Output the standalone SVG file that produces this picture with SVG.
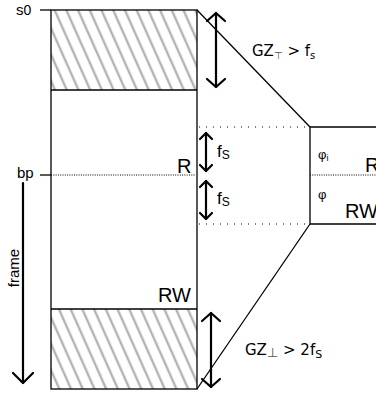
<svg xmlns="http://www.w3.org/2000/svg" width="376" height="394" viewBox="0 0 376 394">
<style>
  .ln { stroke: #000; stroke-width: 1.3; fill: none; }
  .arr { stroke: #000; stroke-width: 2.2; fill: none; stroke-linecap: round; stroke-linejoin: round; }
  .dotS { stroke: #000; stroke-width: 1; stroke-dasharray: 1 6; fill: none; }
  .dotF { stroke: #000; stroke-width: 1; stroke-dasharray: 1 1.3; fill: none; }
  .t { font-family: "Liberation Sans", Arial, sans-serif; fill: #000; }
  .d { font-family: "DejaVu Sans", sans-serif; fill: #000; }
</style>
<defs>
  <pattern id="hatch" patternUnits="userSpaceOnUse" width="10.7" height="10" patternTransform="rotate(-24)">
    <line x1="3" y1="-2" x2="3" y2="12" stroke="#b3b3b3" stroke-width="2.4"/>
  </pattern>
</defs>

<g id="frame-box">
  <rect x="51" y="10" width="146" height="80" fill="url(#hatch)"/>
  <rect x="51" y="309" width="146" height="80" fill="url(#hatch)"/>
  <rect class="ln" x="51" y="10" width="146" height="379"/>
  <line class="ln" x1="51" y1="90" x2="197" y2="90" stroke="#333"/>
  <line class="ln" x1="51" y1="309" x2="197" y2="309" stroke="#333"/>
  <line class="ln" x1="40" y1="10" x2="51" y2="10"/>
  <line class="ln" x1="40" y1="175" x2="51" y2="175"/>
  <line class="dotF" x1="51" y1="175" x2="195" y2="175"/>
  <text class="t" x="177" y="173" font-size="20">R</text>
  <text class="t" x="158" y="302" font-size="20">RW</text>
</g>

<g id="label-s0">
  <text class="t" x="16" y="15" font-size="15">s<tspan font-size="14">0</tspan></text>
</g>
<g id="label-bp">
  <text class="t" x="17" y="178" font-size="15">bp</text>
</g>
<g id="label-frame">
  <text class="t" x="19" y="268" font-size="15" text-anchor="middle" transform="rotate(-90 19 268)">frame</text>
</g>

<g id="right-box">
  <polyline class="ln" points="380,127 310,127 310,224 380,224"/>
  <line class="dotF" x1="310" y1="175" x2="376" y2="175"/>
  <text class="t" x="318" y="159" font-size="13">φ<tspan font-size="9" dy="2">i</tspan></text>
  <text class="t" x="365" y="172" font-size="20">R</text>
  <text class="t" x="318" y="199" font-size="13">φ</text>
  <text class="t" x="345" y="218" font-size="20">RW</text>
</g>

<g id="label-gz-top">
  <text class="d" x="252" y="56" font-size="15">GZ<tspan font-size="10" dy="3" fill="#555">⊤</tspan><tspan dy="-3"> &gt; f</tspan><tspan font-size="10" dy="3">s</tspan></text>
</g>
<g id="label-gz-bot">
  <text class="d" x="245" y="355" font-size="15">GZ<tspan font-size="13" dy="2" fill="#555">⊥</tspan><tspan dy="-2"> &gt; 2f</tspan><tspan font-size="11" dy="3">S</tspan></text>
</g>
<g id="label-fs1">
  <text class="t" x="217" y="157" font-size="17">f<tspan font-size="12" dy="2">S</tspan></text>
</g>
<g id="label-fs2">
  <text class="t" x="217" y="204" font-size="17">f<tspan font-size="12" dy="2">S</tspan></text>
</g>

<g id="connectors">
  <line class="ln" x1="197" y1="10" x2="310" y2="127"/>
  <line class="ln" x1="310" y1="224" x2="197" y2="389"/>
  <line class="dotS" x1="199" y1="127" x2="310" y2="127"/>
  <line class="dotS" x1="199" y1="224" x2="310" y2="224"/>
  <line class="arr" x1="216" y1="13" x2="216" y2="87"/>
  <polyline class="arr" points="207,21 216,13 225,21"/>
  <polyline class="arr" points="207,79 216,87 225,79"/>
  <line class="arr" x1="211" y1="313" x2="211" y2="387"/>
  <polyline class="arr" points="202,321 211,313 220,321"/>
  <polyline class="arr" points="202,379 211,387 220,379"/>
  <line class="arr" x1="206" y1="133" x2="206" y2="171"/>
  <polyline class="arr" points="200,139 206,133 212,139"/>
  <polyline class="arr" points="200,165 206,171 212,165"/>
  <line class="arr" x1="206" y1="181" x2="206" y2="219"/>
  <polyline class="arr" points="200,187 206,181 212,187"/>
  <polyline class="arr" points="200,213 206,219 212,213"/>
  <line class="arr" x1="23" y1="183" x2="23" y2="383"/>
  <polyline class="arr" points="13,373 23,383 33,373"/>
</g>
</svg>
